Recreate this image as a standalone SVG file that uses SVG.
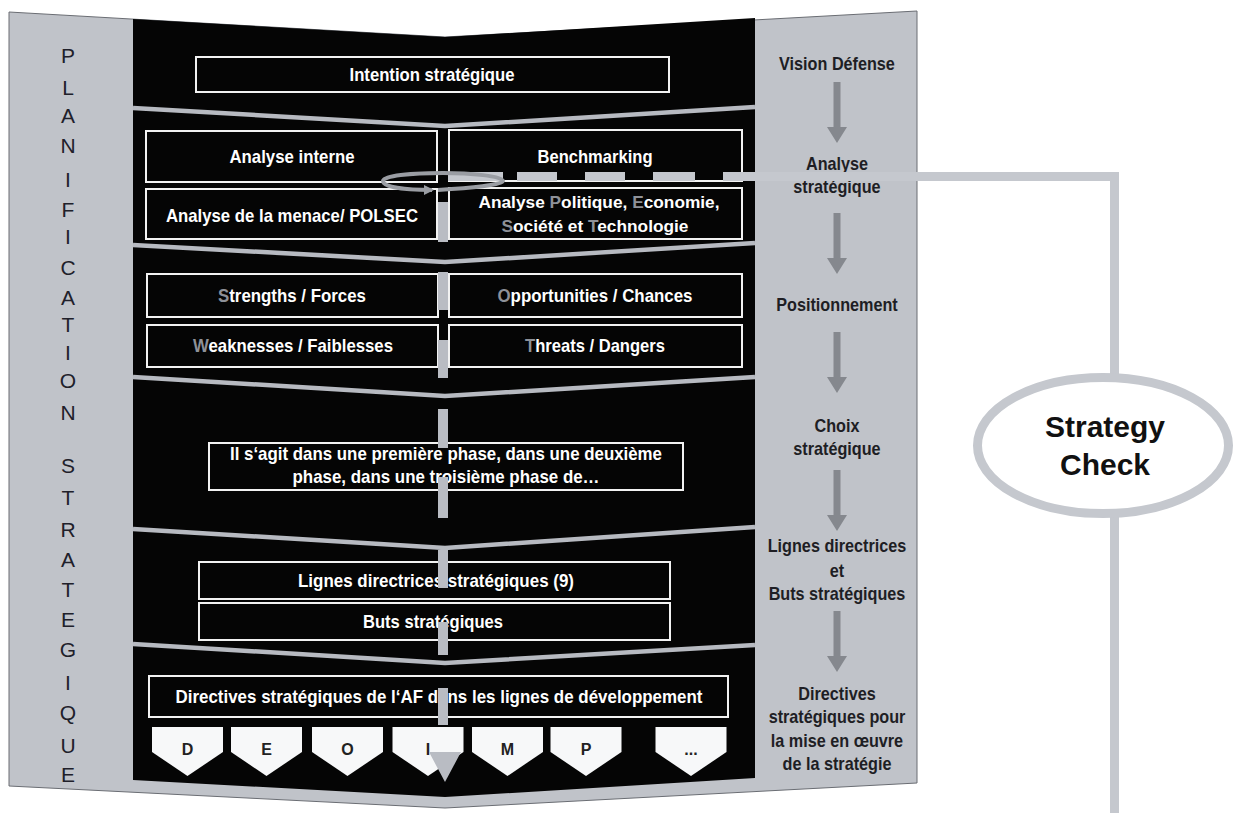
<svg xmlns="http://www.w3.org/2000/svg" width="1243" height="813" viewBox="0 0 1243 813">
<style>
.bx{fill:#050505;stroke:#f2f2f2;stroke-width:2}
.wt{font-family:"Liberation Sans",Arial,sans-serif;font-weight:bold;font-size:18.5px;fill:#ffffff;text-anchor:middle}
.wp{font-size:17.3px}
.gl{fill:#8e9198}
.rt{font-family:"Liberation Sans",Arial,sans-serif;font-weight:bold;font-size:18px;fill:#1e1e24;text-anchor:middle}
.lt{font-family:"Liberation Sans",Arial,sans-serif;font-size:21px;fill:#20202a;text-anchor:middle}
.pt{font-family:"Liberation Sans",Arial,sans-serif;font-weight:bold;font-size:16px;fill:#222222;text-anchor:middle}
.sep{fill:none;stroke:#b7bac1;stroke-width:4.5}
.bar{stroke:#b9bcc3;stroke-width:10}
.pent{fill:#f7f8f9}
.conn{fill:none;stroke:#c5c8ce;stroke-width:9}
.sc{font-family:"Liberation Sans",Arial,sans-serif;font-weight:bold;font-size:30px;fill:#111111;text-anchor:middle}
</style>
<defs>
<path id="rarrow" d="M-3.5,0 H3.5 V45 H10 L0,61 L-10,45 H-3.5 Z" fill="#85888e"/>
<path id="pent" d="M-35.5,0 H35.5 V25 L0,49 L-35.5,25 Z"/>
<marker id="loopHead" viewBox="0 0 10 10" refX="8" refY="5" markerWidth="10" markerHeight="10" markerUnits="userSpaceOnUse" orient="auto">
<path d="M0,0 L10,5 L0,10 Z" fill="#9a9da3"/>
</marker>
</defs>
<rect width="1243" height="813" fill="#ffffff"/>

<g id="frame">
<polygon points="9,12 445,37 917,11 917,783 445,808 9,786" fill="#c0c3c9" stroke="#6a6d73" stroke-width="1"/>
<polygon points="133,19 445,37 755,18 755,778 445,797 133,780" fill="#050505"/>
<polyline class="sep" points="133,108 445,126 755,107"/>
<polyline class="sep" points="133,245 445,262 755,243"/>
<polyline class="sep" points="133,377 445,396 755,377"/>
<polyline class="sep" points="133,529 445,548 755,527"/>
<polyline class="sep" points="133,644 445,663 755,645"/>
</g>

<g id="label-planification">
<text class="lt"><tspan x="68" y="63">P</tspan><tspan x="68" y="95">L</tspan><tspan x="68" y="123">A</tspan><tspan x="68" y="153">N</tspan><tspan x="68" y="187">I</tspan><tspan x="68" y="217">F</tspan><tspan x="68" y="244">I</tspan><tspan x="68" y="275">C</tspan><tspan x="68" y="305">A</tspan><tspan x="68" y="332">T</tspan><tspan x="68" y="360">I</tspan><tspan x="68" y="388">O</tspan><tspan x="68" y="420">N</tspan><tspan x="68" y="473">S</tspan><tspan x="68" y="505">T</tspan><tspan x="68" y="537">R</tspan><tspan x="68" y="567">A</tspan><tspan x="68" y="597">T</tspan><tspan x="68" y="627">E</tspan><tspan x="68" y="657">G</tspan><tspan x="68" y="690">I</tspan><tspan x="68" y="720">Q</tspan><tspan x="68" y="753">U</tspan><tspan x="68" y="782">E</tspan></text>
</g>

<g id="intention">
<rect class="bx" x="196" y="57" width="473" height="35"/>
<text class="wt" x="432" y="81" textLength="165" lengthAdjust="spacingAndGlyphs">Intention stratégique</text>
</g>
<g id="analyse-interne">
<rect class="bx" x="146" y="131" width="291" height="51"/>
<text class="wt" x="292" y="163" textLength="125" lengthAdjust="spacingAndGlyphs">Analyse interne</text>
</g>
<g id="benchmarking">
<rect class="bx" x="449" y="130" width="293" height="51"/>
<text class="wt" x="595" y="163" textLength="115" lengthAdjust="spacingAndGlyphs">Benchmarking</text>
</g>
<g id="menace">
<rect class="bx" x="146" y="189" width="291" height="50"/>
<text class="wt" x="292" y="222" textLength="252" lengthAdjust="spacingAndGlyphs">Analyse de la menace/ POLSEC</text>
</g>
<g id="pest">
<rect class="bx" x="449" y="188" width="293" height="51"/>
<text class="wt wp" x="599" y="208">Analyse <tspan class="gl">P</tspan>olitique, <tspan class="gl">E</tspan>conomie,</text>
<text class="wt wp" x="595" y="232"><tspan class="gl">S</tspan>ociété et <tspan class="gl">T</tspan>echnologie</text>
</g>
<g id="strengths">
<rect class="bx" x="147" y="274" width="291" height="43"/>
<text class="wt" x="292" y="302" textLength="148" lengthAdjust="spacingAndGlyphs"><tspan class="gl">S</tspan>trengths / Forces</text>
</g>
<g id="weaknesses">
<rect class="bx" x="147" y="325" width="291" height="42"/>
<text class="wt" x="293" y="352" textLength="200" lengthAdjust="spacingAndGlyphs"><tspan class="gl">W</tspan>eaknesses / Faiblesses</text>
</g>
<g id="opportunities">
<rect class="bx" x="449" y="274" width="293" height="43"/>
<text class="wt" x="595" y="302" textLength="195" lengthAdjust="spacingAndGlyphs"><tspan class="gl">O</tspan>pportunities / Chances</text>
</g>
<g id="threats">
<rect class="bx" x="449" y="325" width="293" height="42"/>
<text class="wt" x="595" y="352" textLength="140" lengthAdjust="spacingAndGlyphs"><tspan class="gl">T</tspan>hreats / Dangers</text>
</g>
<g id="phases">
<rect class="bx" x="209" y="443" width="474" height="47"/>
<text class="wt" x="446" y="460" textLength="432" lengthAdjust="spacingAndGlyphs">Il s‘agit dans une première phase, dans une deuxième</text>
<text class="wt" x="446" y="483" textLength="307" lengthAdjust="spacingAndGlyphs">phase, dans une troisième phase de…</text>
</g>
<g id="lignes">
<rect class="bx" x="199" y="562" width="471" height="37"/>
<text class="wt" x="436" y="587" textLength="276" lengthAdjust="spacingAndGlyphs">Lignes directrices stratégiques (9)</text>
</g>
<g id="buts">
<rect class="bx" x="199" y="603" width="471" height="37"/>
<text class="wt" x="433" y="628" textLength="140" lengthAdjust="spacingAndGlyphs">Buts stratégiques</text>
</g>
<g id="directives">
<rect class="bx" x="149" y="676" width="579" height="41"/>
<text class="wt" x="439" y="703" textLength="527" lengthAdjust="spacingAndGlyphs">Directives stratégiques de l‘AF dans les lignes de développement</text>
</g>

<g id="dev-lines">
<use href="#pent" class="pent" x="187.5" y="727"/><text class="pt" x="187.5" y="755">D</text>
<use href="#pent" class="pent" x="266.5" y="727"/><text class="pt" x="266.5" y="755">E</text>
<use href="#pent" class="pent" x="347.5" y="727"/><text class="pt" x="347.5" y="755">O</text>
<use href="#pent" class="pent" x="428" y="727"/><text class="pt" x="428" y="755">I</text>
<use href="#pent" class="pent" x="507.5" y="727"/><text class="pt" x="507.5" y="755">M</text>
<use href="#pent" class="pent" x="586" y="727"/><text class="pt" x="586" y="755">P</text>
<use href="#pent" class="pent" x="691" y="727"/><text class="pt" x="691" y="755">...</text>
</g>

<g id="right-labels" transform="translate(837,0) scale(0.9,1) translate(-837,0)">
<text class="rt" x="837" y="70">Vision Défense</text>
<text class="rt" x="837" y="170">Analyse</text>
<text class="rt" x="837" y="193">stratégique</text>
<text class="rt" x="837" y="311">Positionnement</text>
<text class="rt" x="837" y="432">Choix</text>
<text class="rt" x="837" y="455">stratégique</text>
<text class="rt" x="837" y="552">Lignes directrices</text>
<text class="rt" x="837" y="577">et</text>
<text class="rt" x="837" y="600">Buts stratégiques</text>
<text class="rt" x="837" y="700">Directives</text>
<text class="rt" x="837" y="723">stratégiques pour</text>
<text class="rt" x="837" y="747">la mise en œuvre</text>
<text class="rt" x="837" y="770">de la stratégie</text>
</g>

<g id="connectors">
<use href="#rarrow" x="837" y="82"/>
<use href="#rarrow" x="837" y="213"/>
<use href="#rarrow" x="837" y="332"/>
<use href="#rarrow" x="837" y="470"/>
<use href="#rarrow" x="837" y="611"/>
<line class="bar" x1="443" y1="202" x2="443" y2="242"/>
<line class="bar" x1="443" y1="272" x2="443" y2="310"/>
<line class="bar" x1="443" y1="340" x2="443" y2="378"/>
<line class="bar" x1="443" y1="409" x2="443" y2="448"/>
<line class="bar" x1="443" y1="477" x2="443" y2="518"/>
<line class="bar" x1="443" y1="550" x2="443" y2="588"/>
<line class="bar" x1="443" y1="622" x2="443" y2="655"/>
<line class="bar" x1="443" y1="688" x2="443" y2="725"/>
<polygon points="429,752 461,752 445,782" fill="#b9bcc3"/>
<path class="conn" d="M448,176.5 H1114.5 V377" stroke-dasharray="55 14 40 28 40 28 42 28 2000"/>
<path class="conn" d="M1114.5,516 V813"/>
<path d="M438,190 C470,188 503,185 503,181 C503,176 470,173 443,173 C410,173 383,176 383,181 C383,187 405,190 432,190" fill="none" stroke="#9a9da3" stroke-width="4" marker-end="url(#loopHead)"/>
</g>

<g id="strategy-check">
<ellipse cx="1103" cy="445.5" rx="125.5" ry="68" fill="#ffffff" stroke="#c5c8ce" stroke-width="9"/>
<text class="sc" x="1105" y="437">Strategy</text>
<text class="sc" x="1105" y="475">Check</text>
</g>
</svg>
